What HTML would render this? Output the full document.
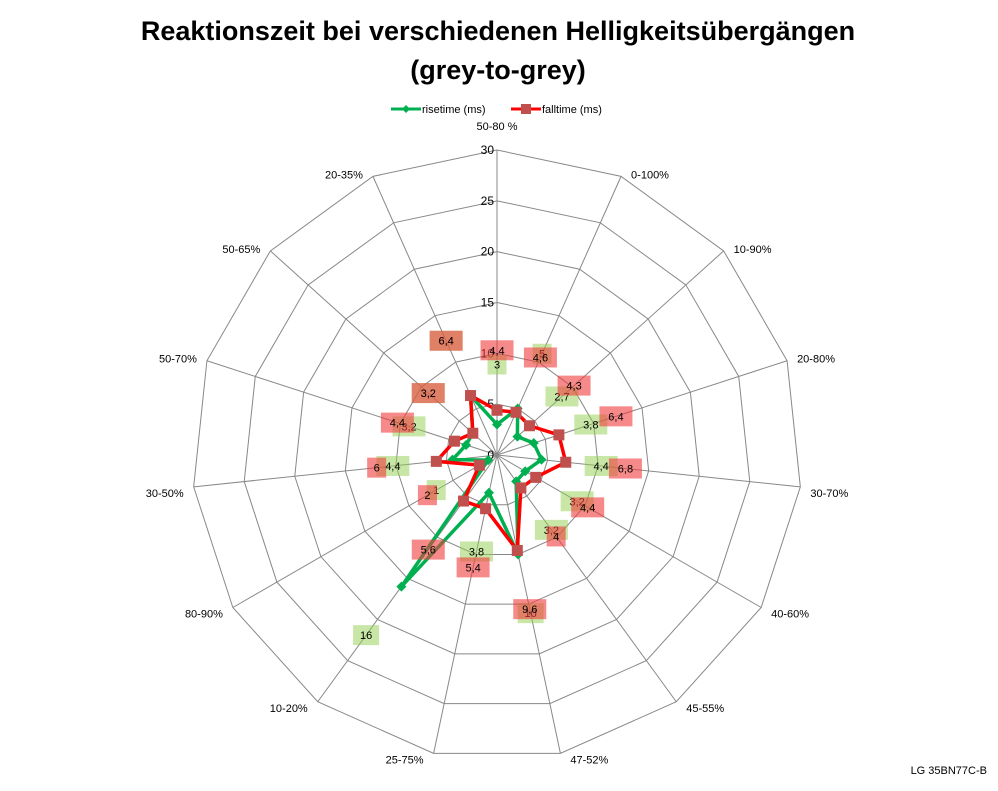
<!DOCTYPE html>
<html><head><meta charset="utf-8">
<style>
body{margin:0;background:#fff;}
svg text{font-family:"Liberation Sans",sans-serif;}
</style></head>
<body>
<svg id="chart" width="998" height="786" viewBox="0 0 998 786" xmlns="http://www.w3.org/2000/svg">
<rect width="998" height="786" fill="#fff"/>
<text x="498" y="40" text-anchor="middle" font-size="27" font-weight="bold">Reaktionszeit bei verschiedenen Helligkeitsübergängen</text>
<text x="498" y="79" text-anchor="middle" font-size="27" font-weight="bold">(grey-to-grey)</text>
<g>
<g>
<line x1="391" y1="109" x2="421" y2="109" stroke="#00b050" stroke-width="3"/>
<path d="M406 105 L410 109 L406 113 L402 109 Z" fill="#00b050"/>
<text x="422" y="113" font-size="11">risetime (ms)</text>
</g>
<g>
<line x1="511" y1="109" x2="541" y2="109" stroke="#ff0000" stroke-width="3"/>
<rect x="521" y="104" width="10" height="10" fill="#c0504d"/>
<text x="542" y="113" font-size="11">falltime (ms)</text>
</g>
</g>
<g id="grid"></g>
<g id="series"></g>
<g id="labels"></g>
<text x="987" y="774" text-anchor="end" font-size="11">LG 35BN77C-B</text>
</svg>
<script>
const categories = ["50-80 %","0-100%","10-90%","20-80%","30-70%","40-60%","45-55%","47-52%","25-75%","10-20%","80-90%","30-50%","50-70%","50-65%","20-35%"];
const risetime = [3,5,2.7,3.8,4.4,3.2,3.2,10,3.8,16,1,4.4,3.2,3.2,6.4];
const falltime = [4.4,4.6,4.3,6.4,6.8,4.4,4,9.6,5.4,5.6,2,6,4.4,3.2,6.4];
const tickValues = [0,5,10,15,20,25,30];
const riseLabels = ["3","5","2,7","3,8","4,4","3,2","3,2","10","3,8","16","1","4,4","3,2","3,2","6,4"];
const fallLabels = ["4,4","4,6","4,3","6,4","6,8","4,4","4","9,6","5,4","5,6","2","6","4,4","3,2","6,4"];

const NS="http://www.w3.org/2000/svg";
const cx=497, cy=455, maxV=30, R=305;
function rScale(v){return v/maxV*R;}
function ang(i){return i*2*Math.PI/categories.length;}
function pt(i,v){const r=rScale(v),a=ang(i);return [cx+r*Math.sin(a), cy-r*Math.cos(a)];}
function mk(tag,attrs,parent){const e=document.createElementNS(NS,tag);for(const k in attrs)e.setAttribute(k,attrs[k]);parent.appendChild(e);return e;}

const grid=document.getElementById('grid');
tickValues.forEach(t=>{
  if(t===0)return;
  const pts=categories.map((c,i)=>pt(i,t).join(',')).join(' ');
  const p=mk('polygon',{points:pts,fill:'none',stroke:'#888','stroke-width':1},grid);
  
  
});
categories.forEach((c,i)=>{
  const [x,y]=pt(i,maxV);
  const l=mk('line',{x1:cx,y1:cy,x2:x,y2:y,stroke:'#888','stroke-width':1},grid);
  
  
  const a=ang(i), s=Math.sin(a), co=Math.cos(a);
  let anchor='middle', lx=x, ly=y;
  if(s>0.2){anchor='start';lx=x+10;ly=y+6;}
  else if(s<-0.2){anchor='end';lx=x-10;ly=y+6;}
  else {ly = co>0 ? y-20 : y+14;}
  if(s>0.2||s<-0.2){ ly = co>0 ? y+2 : y+10; }
  const t=mk('text',{x:lx,y:ly,'text-anchor':anchor,'font-size':11},grid);
  t.textContent=c;
  
  
});
tickValues.forEach(t=>{
  const [x,y]=pt(0,t);
  const e=mk('text',{x:x-3,y:y+4,'text-anchor':'end','font-size':12},grid);
  e.textContent=t;
  
  
});

const series=document.getElementById('series');
function drawSeries(vals,color,marker,name){
  const pts=vals.map((v,i)=>pt(i,v));
  const pl=mk('polygon',{points:pts.map(p=>p.join(',')).join(' '),fill:'none',stroke:color,'stroke-width':3.5,'stroke-linejoin':'round'},series);
  
  
  pts.forEach(([x,y])=>{
    let m;
    if(marker==='diamond') m=mk('path',{d:`M${x} ${y-5} L${x+5} ${y} L${x} ${y+5} L${x-5} ${y} Z`,fill:color},series);
    else m=mk('rect',{x:x-5.5,y:y-5.5,width:11,height:11,fill:'#c0504d'},series);
    
    
  });
}
drawSeries(risetime,'#00b050','diamond','risetime');
drawSeries(falltime,'#ff0000','square','falltime');

const labels=document.getElementById('labels');
function drawLabels(vals,texts,bg,name){
  vals.forEach((v,i)=>{
    const r=rScale(v)+60, a=ang(i);
    const x=cx+r*Math.sin(a), y=cy-r*Math.cos(a);
    const w=texts[i].length*7+12;
    const b=mk('rect',{x:x-w/2,y:y-10,width:w,height:20,fill:bg},labels);
    
    
    const t=mk('text',{x:x,y:y+4,'text-anchor':'middle','font-size':11},labels);
    t.textContent=texts[i];
    
    
  });
}
drawLabels(risetime,riseLabels,'rgba(146,208,80,0.5)','risetime');
drawLabels(falltime,fallLabels,'rgba(240,60,60,0.6)','falltime');
</script>
</body></html>
